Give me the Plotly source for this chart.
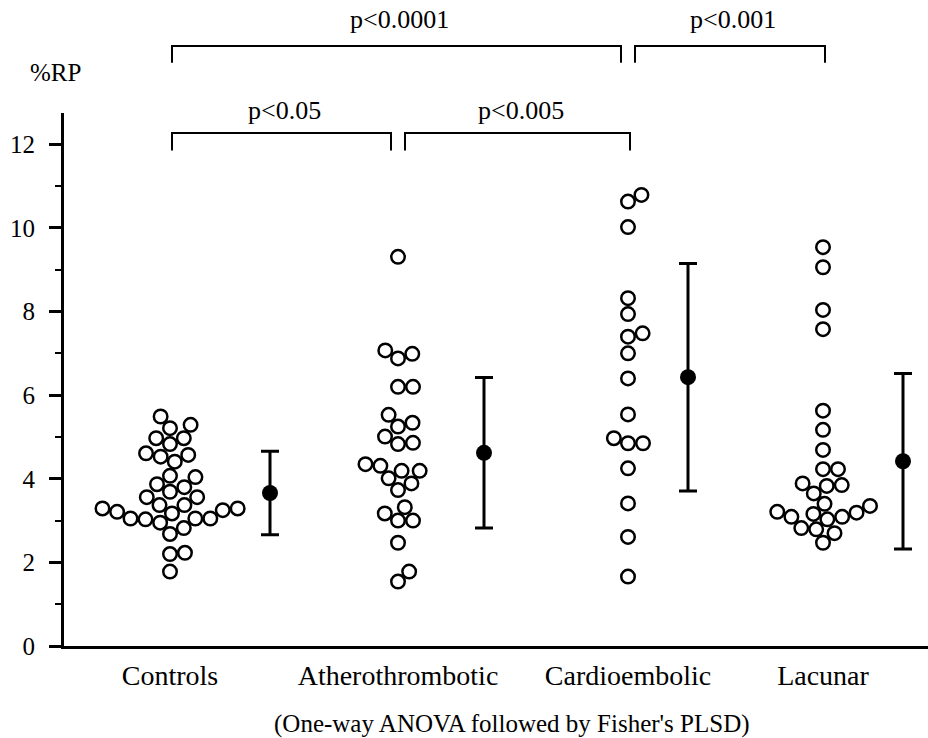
import math
import plotly.graph_objects as go

# ---------------- data ----------------
categories = ["Controls", "Atherothrombotic", "Cardioembolic", "Lacunar"]

controls = [5.49, 5.21, 5.29, 4.97, 4.97, 4.83, 4.57, 4.53, 4.61, 4.41, 4.04, 4.07,
            3.87, 3.80, 3.69, 3.56, 3.56, 3.37, 3.37, 3.29, 3.21, 3.17, 3.25, 3.29,
            2.95, 3.03, 3.05, 3.05, 3.05, 2.82, 2.68, 2.20, 2.23, 1.78]
atherothrombotic = [9.31, 6.88, 6.99, 7.07, 6.20, 6.20, 5.53, 5.25, 5.34, 5.01, 4.83,
                    4.86, 4.19, 4.35, 4.31, 4.19, 4.01, 3.89, 3.73, 3.17, 3.32, 3.00,
                    3.00, 2.47, 1.78, 1.54]
cardioembolic = [10.79, 10.63, 10.02, 8.32, 7.94, 7.48, 7.40, 7.00, 6.40, 5.54, 4.85,
                 4.85, 4.97, 4.25, 3.41, 2.61, 1.66]
lacunar = [9.54, 9.06, 8.04, 7.58, 5.63, 5.17, 4.69, 4.23, 4.23, 3.83, 3.85, 3.89,
           3.65, 3.21, 3.35, 3.03, 3.16, 3.19, 3.40, 3.09, 3.09, 2.70, 2.79, 2.82, 2.47]
groups = [controls, atherothrombotic, cardioembolic, lacunar]

means = [3.66, 4.62, 6.43, 4.42]
sds = [1.00, 1.80, 2.72, 2.10]

comparisons = [  # (group a, group b, label, level)
    (0, 2, "p<0.0001", "upper"),
    (2, 3, "p<0.001", "upper"),
    (0, 1, "p<0.05", "lower"),
    (1, 2, "p<0.005", "lower"),
]
y_ticks = [0, 2, 4, 6, 8, 10, 12]
y_title = "%RP"
note = "(One-way ANOVA followed by Fisher's PLSD)"

# ---------------- layout constants ----------------
W, H = 928, 738
ML, MR, MT, MB = 64, 0, 113, 92
XMIN, XMAX = 0.0, float(W - ML - MR)
YMIN, YMAX = 0.0, 12.75
cat_pos = [106, 334, 564, 759]          # x position of each swarm centre
mean_offset = [100, 86, 60, 80]         # mean +/- SD bar to the right of swarm
PX_PER_Y = (H - MT - MB) / (YMAX - YMIN)
DIAM = 15.0
FONT = "Liberation Serif, Times New Roman, serif"


def swarm(vals, centre):
    placed = []
    xs = [0.0] * len(vals)
    order = sorted(range(len(vals)), key=lambda i: vals[i])
    for i in order:
        y = vals[i] * PX_PER_Y
        cands = [0.0]
        for px, py in placed:
            dy = abs(py - y)
            if dy < DIAM:
                dx = math.sqrt(DIAM ** 2 - dy ** 2)
                cands += [px + dx, px - dx]
        cands.sort(key=lambda c: (abs(c), c < 0))
        chosen = 0.0
        for c in cands:
            if all((c - px) ** 2 + (y - py) ** 2 >= DIAM ** 2 - 1e-6 for px, py in placed):
                chosen = c
                break
        placed.append((chosen, y))
        xs[i] = centre + chosen
    return xs


fig = go.Figure()
for g, vals in enumerate(groups):
    fig.add_trace(go.Scatter(
        x=swarm(vals, cat_pos[g]), y=vals, mode="markers",
        marker=dict(symbol="circle-open", size=13.5, color="black", line=dict(width=2.5, color="black")),
        showlegend=False, cliponaxis=False))

fig.add_trace(go.Scatter(
    x=[cat_pos[i] + mean_offset[i] for i in range(4)], y=means, mode="markers",
    marker=dict(symbol="circle", size=16, color="black"),
    error_y=dict(type="data", array=sds, symmetric=True, color="black", thickness=3, width=9),
    showlegend=False, cliponaxis=False))


def px_paper(x):
    return (x - XMIN) / (XMAX - XMIN)


def py_paper(v):
    return (v - YMIN) / (YMAX - YMIN)


levels = {"upper": (14.35, 13.95, 14.98), "lower": (12.27, 11.85, 12.80)}
shapes = []
annotations = []
for a, b, label, lev in comparisons:
    top, drop, ty = levels[lev]
    xa = cat_pos[a] + (7 if any(c[1] == a and c[3] == lev for c in comparisons) else 2)
    xb = cat_pos[b] - (7 if any(c[0] == b and c[3] == lev for c in comparisons) else -2)
    path = (f"M {px_paper(xa)},{py_paper(drop)} L {px_paper(xa)},{py_paper(top)} "
            f"L {px_paper(xb)},{py_paper(top)} L {px_paper(xb)},{py_paper(drop)}")
    shapes.append(dict(type="path", path=path, xref="paper", yref="paper",
                       line=dict(color="black", width=2)))
    annotations.append(dict(x=px_paper((xa + xb) / 2 + 3), y=py_paper(ty), xref="paper", yref="paper",
                            text=label, showarrow=False, xanchor="center", yanchor="middle",
                            font=dict(family=FONT, size=26, color="black")))

annotations.append(dict(x=px_paper(-9), y=py_paper(13.72), xref="paper", yref="paper", text=y_title,
                        showarrow=False, xanchor="center", yanchor="middle",
                        font=dict(family=FONT, size=25, color="black")))
annotations.append(dict(x=px_paper(448), y=py_paper(-1.87), xref="paper", yref="paper", text=note,
                        showarrow=False, xanchor="center", yanchor="middle",
                        font=dict(family=FONT, size=25, color="black")))

fig.update_layout(
    width=W, height=H, margin=dict(l=ML, r=MR, t=MT, b=MB),
    paper_bgcolor="white", plot_bgcolor="white",
    shapes=shapes, annotations=annotations,
    font=dict(family=FONT, color="black"),
    xaxis=dict(range=[XMIN, XMAX], showgrid=False, zeroline=False, showline=True,
               linecolor="black", linewidth=3, ticks="", tickvals=cat_pos,
               ticktext=categories, tickfont=dict(family=FONT, size=28, color="black"),
               ticklabelstandoff=2),
    yaxis=dict(range=[YMIN, YMAX], showgrid=False, zeroline=False, showline=True,
               linecolor="black", linewidth=3, ticks="outside", ticklen=12, tickwidth=2.5,
               tickcolor="black", tickvals=y_ticks,
               tickfont=dict(family=FONT, size=25, color="black"), ticklabelstandoff=9,
               minor=dict(ticks="outside", ticklen=6, tickwidth=2, tickcolor="black",
                          dtick=1, tick0=0, showgrid=False)),
)

fig.write_html("out.html")
